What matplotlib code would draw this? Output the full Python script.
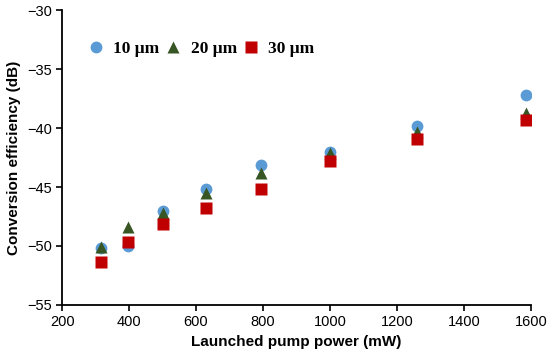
import matplotlib
matplotlib.use("Agg")
import matplotlib.pyplot as plt

# launched pump power (mW)
power = [316, 398, 501, 631, 794, 1000, 1259, 1585]

# conversion efficiency (dB) per waveguide width
ce_10um = [-50.2, -50.0, -47.0, -45.2, -43.1, -42.0, -39.8, -37.2]
ce_20um = [-50.1, -48.4, -47.2, -45.5, -43.8, -42.1, -40.3, -38.7]
ce_30um = [-51.4, -49.7, -48.1, -46.8, -45.2, -42.8, -40.9, -39.3]

labels = ["10 \u03bcm", "20 \u03bcm", "30 \u03bcm"]

x_ticks = [200, 400, 600, 800, 1000, 1200, 1400, 1600]
y_ticks = [-55, -50, -45, -40, -35, -30]

plt.rcParams["font.family"] = ["Liberation Sans", "DejaVu Sans"]

fig = plt.figure(figsize=(5.5, 3.63), dpi=100)
ax = fig.add_axes([0.113, 0.16, 0.852, 0.812])

ax.plot(power, ce_10um, "o", color="#5B9BD5", ms=8.5, mec="none", label=labels[0])
ax.plot(power, ce_20um, "^", color="#375623", ms=8.5, mec="none", label=labels[1])
ax.plot(power, ce_30um, "s", color="#C00000", ms=8, mec="none", label=labels[2])

ax.set_xlim(200, 1600)
ax.set_ylim(-55, -30)
ax.set_xticks(x_ticks)
ax.set_yticks(y_ticks)
ax.tick_params(direction="out", length=4, width=1.2, labelsize=10.5)

for side in ["top", "right"]:
    ax.spines[side].set_visible(False)
for side in ["left", "bottom"]:
    ax.spines[side].set_linewidth(1.3)

ax.set_xlabel("Launched pump power (mW)", fontsize=11, fontweight="bold")
ax.set_ylabel("Conversion efficiency (dB)", fontsize=11, fontweight="bold")

ax.legend(loc="upper left", ncol=3, frameon=False, bbox_to_anchor=(0.02, 0.95),
          handletextpad=0.5, columnspacing=0.3, handlelength=1.0,
          prop={"family": ["Liberation Serif", "DejaVu Serif"], "weight": "bold", "size": 12.5})

fig.savefig("out.png", dpi=100)
